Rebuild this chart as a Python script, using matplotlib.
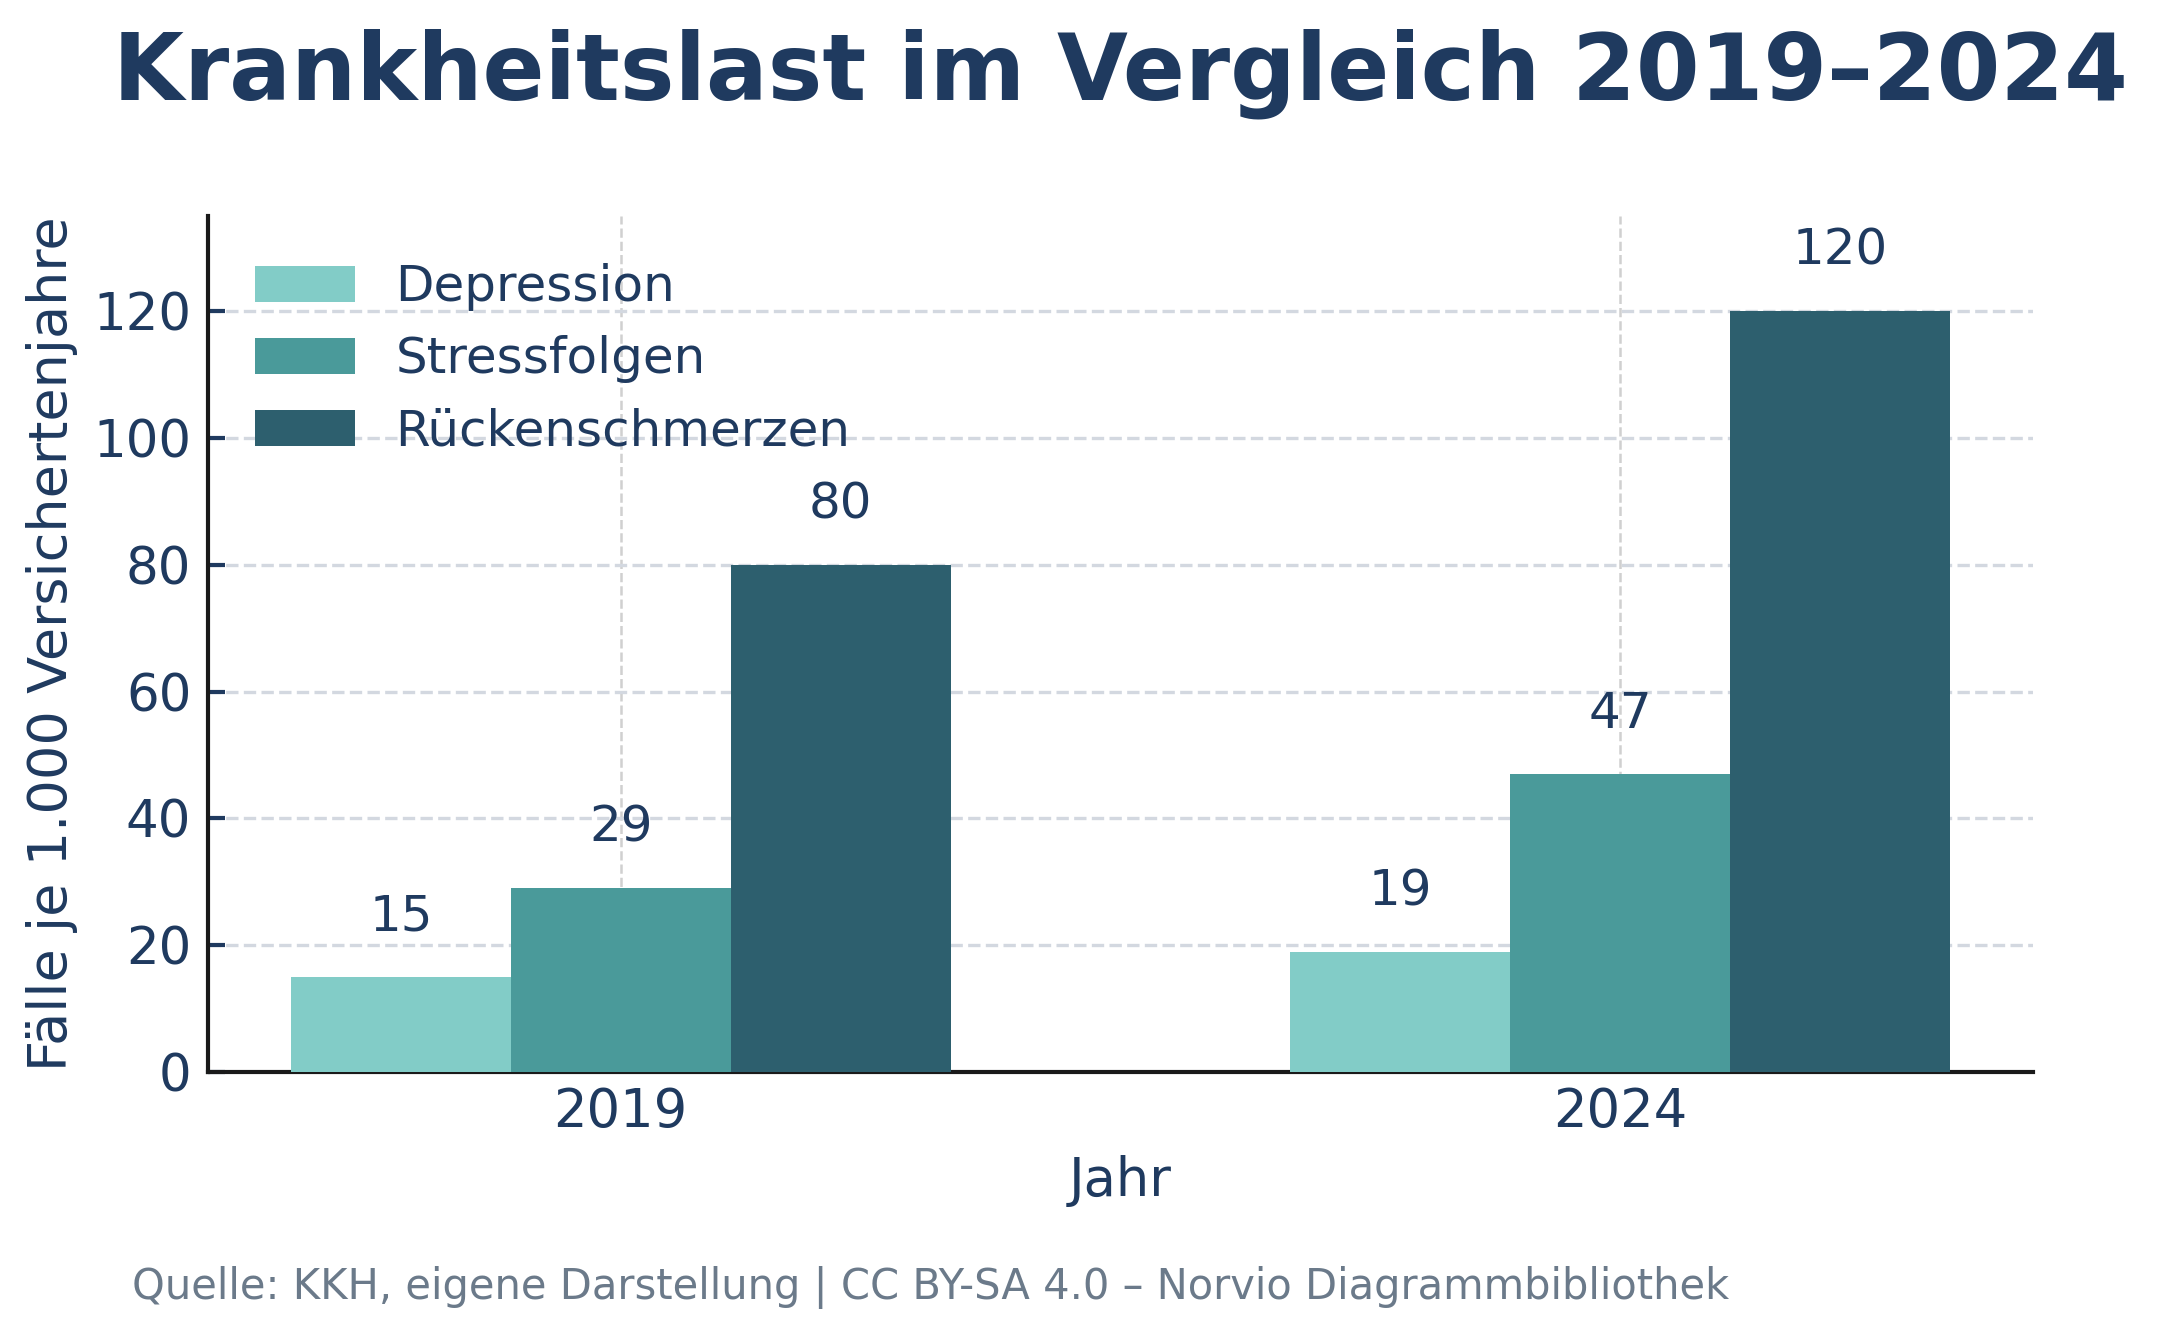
import matplotlib
matplotlib.use("Agg")
import matplotlib.pyplot as plt
import numpy as np

years = ["2019", "2024"]
series_names = ["Depression", "Stressfolgen", "Rückenschmerzen"]
depression = [15, 19]
stressfolgen = [29, 47]
ruecken = [80, 120]
colors = ["#82CCC7", "#4A9A9A", "#2D5F6E"]

navy = "#1F3A5F"
plt.rcParams["font.family"] = ["DejaVu Sans"]

fig = plt.figure(figsize=(10.785, 6.705), dpi=200)
ax = fig.add_axes([0.0964, 0.2006, 0.8461, 0.6384])

x = np.arange(len(years))
w = 0.22
for i, (vals, name, c) in enumerate(zip([depression, stressfolgen, ruecken], series_names, colors)):
    bars = ax.bar(x + (i - 1) * w, vals, width=w, color=c, label=name, zorder=3)
    ax.bar_label(bars, labels=[str(v) for v in vals], padding=13, fontsize=18, color=navy)

ax.set_ylim(0, 135)
ax.set_xticks(x)
ax.set_xticklabels(years, fontsize=19, color=navy)
ax.set_yticks(np.arange(0, 121, 20))
ax.tick_params(axis="y", labelsize=18.5, labelcolor=navy, color=navy, direction="in", length=6, width=1.5, pad=6)
ax.tick_params(axis="x", length=0, pad=5)
ax.grid(axis="y", linestyle="--", color="#D3D8E0", linewidth=1.2, zorder=0)
ax.grid(axis="x", linestyle="--", color="#D0D0D0", linewidth=0.9, zorder=0)
for s in ["top", "right"]:
    ax.spines[s].set_visible(False)
for s in ["left", "bottom"]:
    ax.spines[s].set_color("#1A1A1A")
    ax.spines[s].set_linewidth(1.5)

ax.set_ylabel("Fälle je 1.000 Versichertenjahre", fontsize=19.5, color=navy, labelpad=5.5)
ax.set_xlabel("Jahr", fontsize=19, color=navy, labelpad=6)
ax.set_title("Krankheitslast im Vergleich 2019–2024", fontsize=33, fontweight="bold", color=navy, pad=42)

leg = ax.legend(loc="upper left", frameon=False, fontsize=18, handlelength=2.0, handleheight=0.75,
                labelcolor=navy, borderaxespad=0.55, labelspacing=0.48)

fig.text(0.061, 0.04, "Quelle: KKH, eigene Darstellung | CC BY-SA 4.0 – Norvio Diagrammbibliothek",
         fontsize=15, color="#6B7A8A", va="center", ha="left")

fig.savefig("out.png", dpi=200)
